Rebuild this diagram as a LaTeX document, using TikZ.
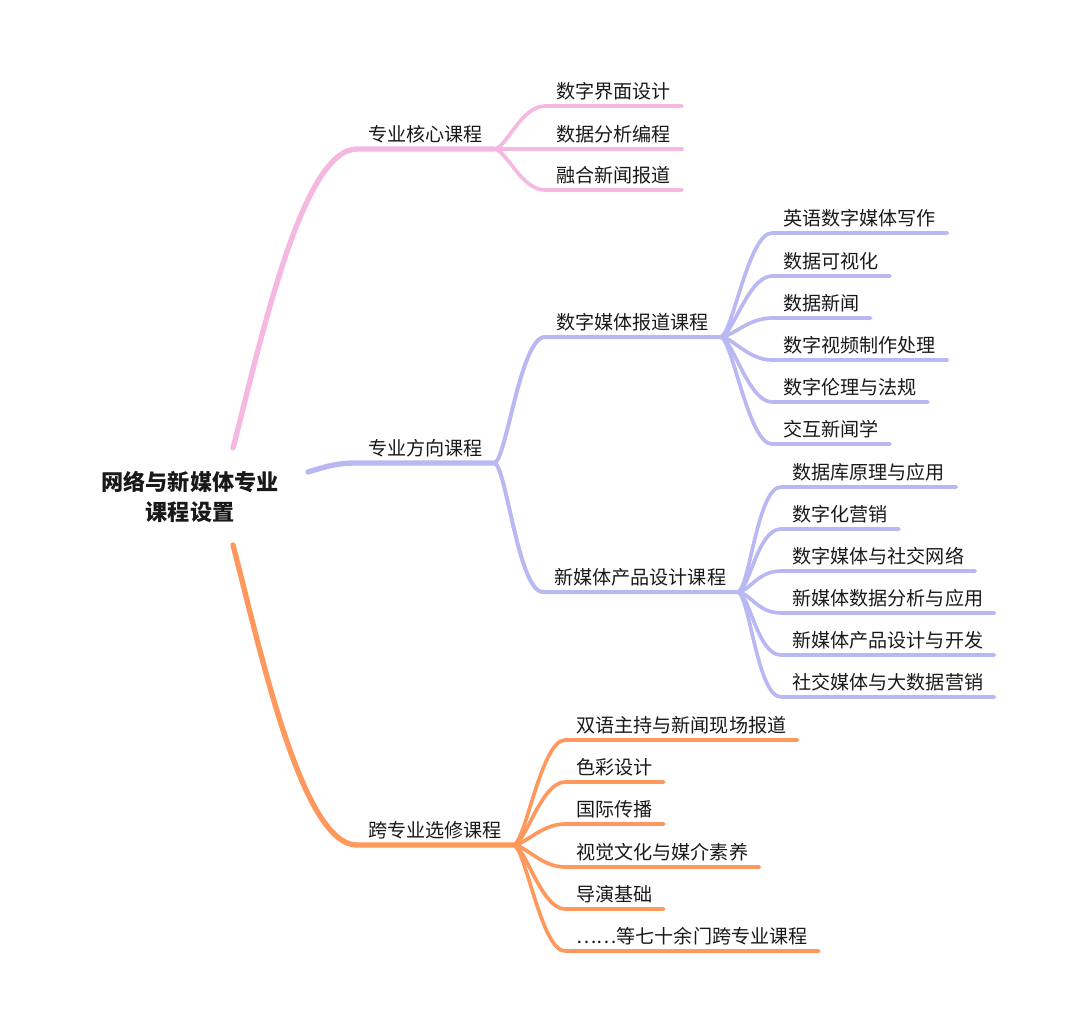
\documentclass[tikz,border=0pt]{standalone}
\usepackage{fontspec}
\setmainfont{Noto Sans CJK SC}
\definecolor{mmpink}{RGB}{245,184,224}
\definecolor{mmblue}{RGB}{184,184,242}
\definecolor{mmorange}{RGB}{255,152,92}
\definecolor{mmdark}{RGB}{25,25,25}
\begin{document}
\begin{tikzpicture}[x=0.3mm,y=-0.3mm,
  root/.style={font=\fontsize{18.9}{25.6}\selectfont\bfseries,align=center,text=mmdark},
  crs/.style={anchor=south west,font=\fontsize{16.3}{20}\selectfont,text=mmdark,inner xsep=3.3mm,inner ysep=0pt,text height=5mm,text depth=2.3mm},
  trunk/.style={line width=1.6mm,line cap=round},
  twig/.style={line width=1.1mm,line cap=round}]
\useasboundingbox (0,0) rectangle (1080,1026);
% centre
\node[root] (root) at (190,497) {网络与新媒体专业\\课程设置};
\coordinate (rp) at (233,448); \coordinate (rb) at (308,472); \coordinate (ro) at (233,545);
% core courses
\node[crs] (core) at (357,149) {专业核心课程};
\draw[trunk,mmpink] (rp) .. controls +(28,-108) and +(-55,0) .. (core.south west) -- (core.south east);
\node[crs] (core1) at (545,106) {数字界面设计};
\draw[twig,mmpink] (core.south east) .. controls +(12,0) and +(-24,0) .. (core1.south west) -- (core1.south east);
\node[crs] (core2) at (545,149) {数据分析编程};
\draw[twig,mmpink] (core.south east) -- (core2.south west) -- (core2.south east);
\node[crs] (core3) at (545,190) {融合新闻报道};
\draw[twig,mmpink] (core.south east) .. controls +(12,0) and +(-24,0) .. (core3.south west) -- (core3.south east);
% direction courses
\node[crs] (dir) at (357,463) {专业方向课程};
\draw[trunk,mmblue] (rb) .. controls +(20,-6) and +(-20,0) .. (dir.south west) -- (dir.south east);
\node[crs] (rep) at (545,337) {数字媒体报道课程};
\draw[trunk,mmblue,line width=1.2mm] (dir.south east) .. controls +(12,0) and +(-25,0) .. (rep.south west) -- (rep.south east);
\node[crs] (prd) at (543,592) {新媒体产品设计课程};
\draw[trunk,mmblue,line width=1.2mm] (dir.south east) .. controls +(12,0) and +(-25,0) .. (prd.south west) -- (prd.south east);
\node[crs] (rep1) at (772,233) {英语数字媒体写作};
\draw[twig,mmblue] (rep.south east) .. controls +(12,0) and +(-24,0) .. (rep1.south west) -- (rep1.south east);
\node[crs] (rep2) at (772,276) {数据可视化};
\draw[twig,mmblue] (rep.south east) .. controls +(12,0) and +(-24,0) .. (rep2.south west) -- (rep2.south east);
\node[crs] (rep3) at (772,318) {数据新闻};
\draw[twig,mmblue] (rep.south east) .. controls +(12,0) and +(-24,0) .. (rep3.south west) -- (rep3.south east);
\node[crs] (rep4) at (772,360) {数字视频制作处理};
\draw[twig,mmblue] (rep.south east) .. controls +(12,0) and +(-24,0) .. (rep4.south west) -- (rep4.south east);
\node[crs] (rep5) at (772,402) {数字伦理与法规};
\draw[twig,mmblue] (rep.south east) .. controls +(12,0) and +(-24,0) .. (rep5.south west) -- (rep5.south east);
\node[crs] (rep6) at (772,444) {交互新闻学};
\draw[twig,mmblue] (rep.south east) .. controls +(12,0) and +(-24,0) .. (rep6.south west) -- (rep6.south east);
\node[crs] (prd1) at (781,487) {数据库原理与应用};
\draw[twig,mmblue] (prd.south east) .. controls +(12,0) and +(-24,0) .. (prd1.south west) -- (prd1.south east);
\node[crs] (prd2) at (781,529) {数字化营销};
\draw[twig,mmblue] (prd.south east) .. controls +(12,0) and +(-24,0) .. (prd2.south west) -- (prd2.south east);
\node[crs] (prd3) at (781,571) {数字媒体与社交网络};
\draw[twig,mmblue] (prd.south east) .. controls +(12,0) and +(-24,0) .. (prd3.south west) -- (prd3.south east);
\node[crs] (prd4) at (781,613) {新媒体数据分析与应用};
\draw[twig,mmblue] (prd.south east) .. controls +(12,0) and +(-24,0) .. (prd4.south west) -- (prd4.south east);
\node[crs] (prd5) at (781,655) {新媒体产品设计与开发};
\draw[twig,mmblue] (prd.south east) .. controls +(12,0) and +(-24,0) .. (prd5.south west) -- (prd5.south east);
\node[crs] (prd6) at (781,697) {社交媒体与大数据营销};
\draw[twig,mmblue] (prd.south east) .. controls +(12,0) and +(-24,0) .. (prd6.south west) -- (prd6.south east);
% electives
\node[crs] (ele) at (357,845) {跨专业选修课程};
\draw[trunk,mmorange] (ro) .. controls +(28,108) and +(-55,0) .. (ele.south west) -- (ele.south east);
\node[crs] (ele1) at (565,740) {双语主持与新闻现场报道};
\draw[twig,mmorange] (ele.south east) .. controls +(12,0) and +(-24,0) .. (ele1.south west) -- (ele1.south east);
\node[crs] (ele2) at (565,782) {色彩设计};
\draw[twig,mmorange] (ele.south east) .. controls +(12,0) and +(-24,0) .. (ele2.south west) -- (ele2.south east);
\node[crs] (ele3) at (565,824) {国际传播};
\draw[twig,mmorange] (ele.south east) .. controls +(12,0) and +(-24,0) .. (ele3.south west) -- (ele3.south east);
\node[crs] (ele4) at (565,867) {视觉文化与媒介素养};
\draw[twig,mmorange] (ele.south east) .. controls +(12,0) and +(-24,0) .. (ele4.south west) -- (ele4.south east);
\node[crs] (ele5) at (565,909) {导演基础};
\draw[twig,mmorange] (ele.south east) .. controls +(12,0) and +(-24,0) .. (ele5.south west) -- (ele5.south east);
\node[crs] (ele6) at (565,951) {……等七十余门跨专业课程};
\draw[twig,mmorange] (ele.south east) .. controls +(12,0) and +(-24,0) .. (ele6.south west) -- (ele6.south east);
\end{tikzpicture}
\end{document}
